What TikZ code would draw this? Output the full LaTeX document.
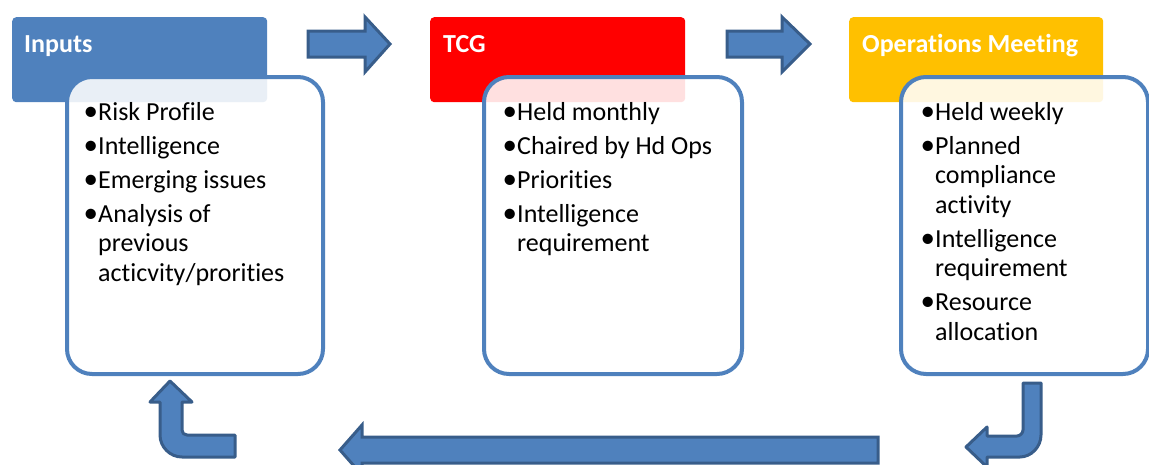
\documentclass[tikz,border=0pt]{standalone}
\usepackage{fontspec}
\setmainfont{Carlito}[Ligatures=NoCommon]
\definecolor{accblue}{HTML}{4F81BD}
\definecolor{darkblue}{HTML}{385D8A}
\definecolor{tcgred}{HTML}{FF0000}
\definecolor{opsgold}{HTML}{FFC000}
% bullet with fixed width, and the matching indent for wrapped lines
\newcommand\bul{\makebox[11pt][l]{\kern-3.5pt\raisebox{-0.4pt}{\fontsize{29}{29}\selectfont •}}}
\newcommand\ind{\kern11pt}
\newcommand\gap{\vskip4.5pt}
\begin{document}
\begin{tikzpicture}[x=1pt,y=-1pt,
  hdr/.style={rounded corners=4pt, minimum width=255pt, minimum height=85pt,
    anchor=north west, inner sep=0pt},
  hdrtext/.style={anchor=base west, inner sep=0pt, text=white,
    font=\fontsize{26}{30}\selectfont\bfseries},
  body/.style={draw=accblue, line width=4pt, rounded corners=25pt,
    fill=white, fill opacity=0.88, text opacity=1,
    anchor=north west, inner sep=0pt, minimum height=297pt},
  itemtext/.style={anchor=base west, inner sep=0pt,
    font=\fontsize{26}{29.5}\selectfont},
  blockarrow/.style={fill=accblue, draw=darkblue, line width=3pt, line join=miter},
  bentarrow/.style={fill=accblue, draw=darkblue, line width=3pt, line join=round}]
\useasboundingbox (0,0) rectangle (1149,464);
\clip (0,0) rectangle (1149,464);

% title tabs
\node[hdr, fill=accblue,  minimum width=255pt] (inH) at (12,17) {};
\node[hdr, fill=tcgred,   minimum width=255pt] (tcH) at (430,17) {};
\node[hdr, fill=opsgold,  minimum width=254pt] (opH) at (849,17) {};
\node[hdrtext] (inT) at (24,52)  {Inputs};
\node[hdrtext] (tcT) at (443,52) {TCG};
\node[hdrtext] (opT) at (862,52) {Operations Meeting};

% content panels
\node[body, minimum width=256pt] (inB) at (65,75)  {};
\node[body, minimum width=258pt] (tcB) at (482,75) {};
\node[body, minimum width=247pt] (opB) at (899,75) {};

% panel texts
\node[itemtext] (inL) at (87,120) {\vtop{
  \hbox{\bul Risk Profile}\gap
  \hbox{\bul Intelligence}\gap
  \hbox{\bul Emerging issues}\gap
  \hbox{\bul Analysis of}
  \hbox{\ind previous}
  \hbox{\ind acticvity/prorities}}};
\node[itemtext] (tcL) at (506,120) {\vtop{
  \hbox{\bul Held monthly}\gap
  \hbox{\bul Chaired by Hd Ops}\gap
  \hbox{\bul Priorities}\gap
  \hbox{\bul Intelligence}
  \hbox{\ind requirement}}};
\node[itemtext] (opL) at (924,120) {\vtop{
  \hbox{\bul Held weekly}\gap
  \hbox{\bul Planned}
  \hbox{\ind compliance}
  \hbox{\ind activity}\gap
  \hbox{\bul Intelligence}
  \hbox{\ind requirement}\gap
  \hbox{\bul Resource}
  \hbox{\ind allocation}}};

% forward arrows between the tabs
\draw[blockarrow] (308,31) -- (365,31) -- (365,17) -- (390,44) -- (365,72)
  -- (365,57) -- (308,57) -- cycle;
\draw[blockarrow] (727,31) -- (782,31) -- (782,17) -- (810,44) -- (782,72)
  -- (782,57) -- (727,57) -- cycle;

% return path along the bottom
\draw[bentarrow] (1023,383) -- (1041,383) -- (1041,435)
  .. controls (1041,447) and (1031,457) .. (1020,457) -- (987,457) -- (987,467)
  -- (966,447) -- (987,427) -- (987,436) -- (1017,436)
  .. controls (1020,436) and (1023,433) .. (1023,430) -- cycle;
\draw[blockarrow] (878,437) -- (362,437) -- (362,425) -- (340,450) -- (362,475)
  -- (362,463) -- (878,463) -- cycle;
\draw[bentarrow] (170,381) -- (192,402) -- (182,402) -- (182,430)
  .. controls (182,433) and (184,435) .. (187,435) -- (235,435) -- (235,457)
  -- (182,457) .. controls (170,457) and (160,447) .. (160,435)
  -- (160,402) -- (150,402) -- cycle;
\end{tikzpicture}
\end{document}
